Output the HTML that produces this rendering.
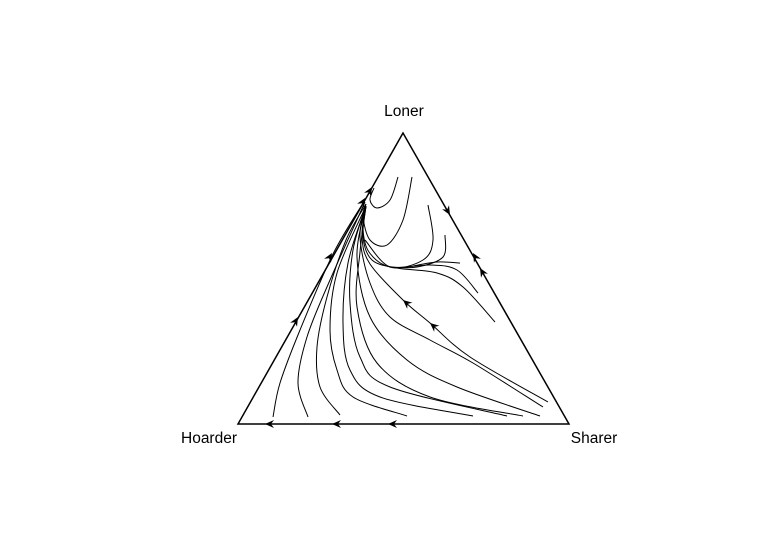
<!DOCTYPE html>
<html><head><meta charset="utf-8"><style>
html,body{margin:0;padding:0;background:#fff;}
svg{display:block;font-family:"Liberation Sans",sans-serif;}
</style></head><body>
<svg id="chart" width="769" height="535" viewBox="0 0 769 535">
<polygon points="403,133 238,424 569,424" fill="none" stroke="#000" stroke-width="1.5"/>
<text x="404" y="116" font-size="15.5" text-anchor="middle">Loner</text>
<text x="209" y="443" font-size="15.5" text-anchor="middle">Hoarder</text>
<text x="594" y="443" font-size="15.5" text-anchor="middle">Sharer</text>
<g id="traj"></g>
</svg>
<script>
// trajectory data in triangle-plane units (x from Hoarder corner rightward, y upward)
const traj1=[[35,7],[42,41],[62,94],[95,170],[127,224]];
const traj2=[[70,7],[60,41],[69,87],[92,144],[127,222]];
const traj3=[[102,9],[82,37],[79,77],[89,127],[108,184],[128,220]];
const traj4=[[169,8],[115,27],[99,54],[92,94],[99,151],[128,218]];
const traj5=[[235,8],[142,27],[112,54],[105,101],[110,161],[128,218]];
const traj6=[[269,8],[152,37],[122,67],[112,121],[115,174],[128,218]];
const traj7=[[285,8],[192,27],[139,61],[119,117],[122,172],[128,218]];
const traj8=[[302,8],[219,37],[169,64],[132,107],[119,167],[128,218]];
const traj9=[[305,17],[235,61],[192,84],[152,107],[132,141],[122,187],[128,218]];
const traj10=[[310,22],[232,67],[192,101],[165,124],[132,160],[124,187],[128,218]];
const traj11=[[257,102],[225,137],[199,151],[159,156],[134,164],[125,187],[128,218]];
const traj12=[[240,131],[219,154],[192,159],[152,157],[131,172],[125,195],[128,218]];
const traj13=[[160,247],[152,224],[139,216],[132,224],[136,236]];
const traj14=[[174,247],[165,204],[149,179],[132,184],[125,207],[128,220]];
const traj15=[[190,219],[195,184],[185,164],[152,157],[127,184]];
const traj16=[[207,189],[205,167],[179,157],[152,157]];
const traj17=[[222,161],[199,162],[175,158]];
const trajectories=[traj1,traj2,traj3,traj4,traj5,traj6,traj7,traj8,traj9,traj10,traj11,traj12,traj13,traj14,traj15,traj16,traj17];
// arrows: position and direction
const arrowPos=[[134,237],[127,226],[94,171],[60,107],[27,0],[94,0],[150,0],[212,209],[235,171],[242,156],[192,101],[165,124]];
const arrowDir=[[1,1.76],[1,1.76],[1,1.76],[1,1.76],[-1,0],[-1,0],[-1,0],[0.57,-1],[-0.57,1],[-0.57,1],[-1,0.86],[-1,0.86]];
const OX=238,OY=424;
function sx(x){return OX+x;}
function sy(y){return OY-y;}
const g=document.getElementById('traj');
const NS='http://www.w3.org/2000/svg';
function smooth(pts){
  const p=pts.map(a=>[sx(a[0]),sy(a[1])]);
  let d='M'+p[0][0]+','+p[0][1];
  for(let i=0;i<p.length-1;i++){
    const p0=p[Math.max(i-1,0)],p1=p[i],p2=p[i+1],p3=p[Math.min(i+2,p.length-1)];
    const c1=[p1[0]+(p2[0]-p0[0])/6,p1[1]+(p2[1]-p0[1])/6];
    const c2=[p2[0]-(p3[0]-p1[0])/6,p2[1]-(p3[1]-p1[1])/6];
    d+=' C'+c1[0].toFixed(1)+','+c1[1].toFixed(1)+' '+c2[0].toFixed(1)+','+c2[1].toFixed(1)+' '+p2[0].toFixed(1)+','+p2[1].toFixed(1);
  }
  return d;
}
trajectories.forEach((t,i)=>{
  const path=document.createElementNS(NS,'path');
  path.setAttribute('d',smooth(t));
  path.setAttribute('fill','none');path.setAttribute('stroke','#000');path.setAttribute('stroke-width','1');
  
  
  g.appendChild(path);
});
arrowPos.forEach((a,i)=>{
  const d=arrowDir[i];
  let dx=d[0],dy=-d[1];const L=Math.hypot(dx,dy);dx/=L;dy/=L;
  const x=sx(a[0]),y=sy(a[1]);
  const bx=x-dx*9,by=y-dy*9,nx=-dy,ny=dx;
  const mx=x-dx*6,my=y-dy*6;
  const poly=document.createElementNS(NS,'polygon');
  poly.setAttribute('points',[x,y,bx+nx*4,by+ny*4,mx,my,bx-nx*4,by-ny*4].map(v=>v.toFixed(1)).join(' '));
  poly.setAttribute('fill','#000');
  
  
  g.appendChild(poly);
});
</script>
</body></html>
